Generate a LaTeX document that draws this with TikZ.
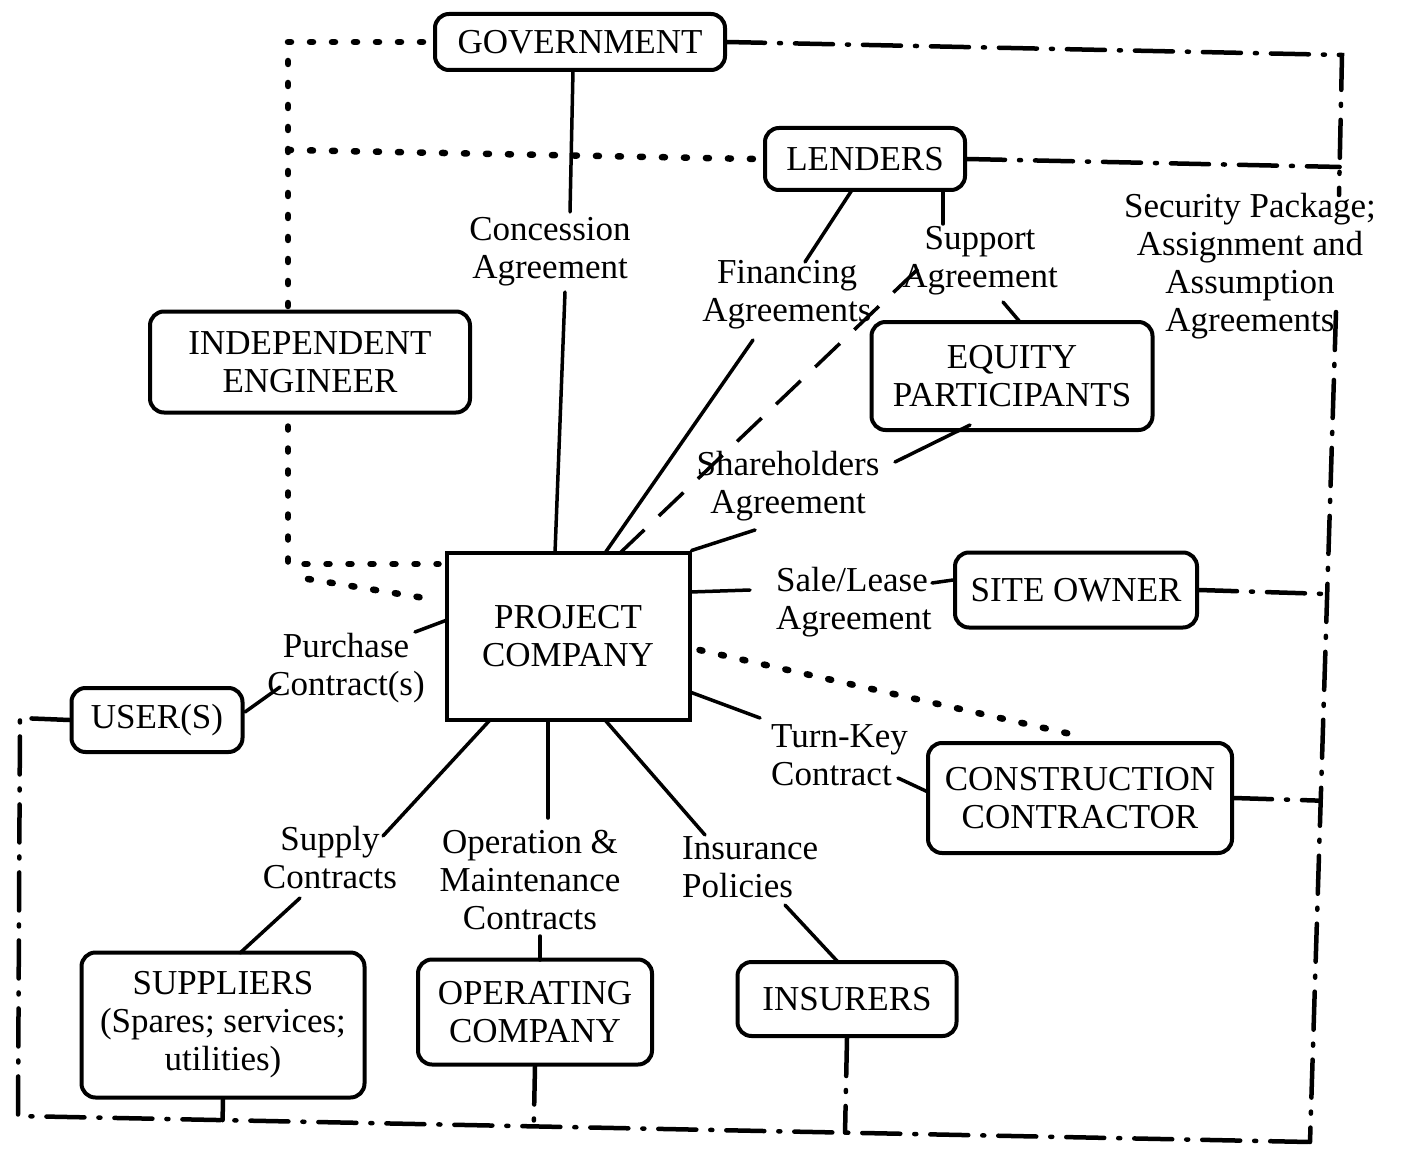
\documentclass[tikz,border=0pt]{standalone}
\usepackage{fontspec}
\setmainfont{Liberation Serif}
\usetikzlibrary{calc}
\newcommand\dfont{\fontsize{35}{38}\selectfont}
\begin{document}
\begin{tikzpicture}[x=1pt,y=-1pt,
 ebox/.style={draw, line width=4pt, rounded corners=14pt, align=center, inner sep=0pt, font=\dfont},
 pcbox/.style={draw, line width=4pt, align=center, inner sep=0pt, font=\dfont},
 lab/.style={align=center, inner sep=0pt, font=\dfont},
 labl/.style={align=left, inner sep=0pt, font=\dfont, anchor=west},
 conn/.style={line width=3.5pt, line cap=round},
 dashconn/.style={line width=3.5pt, dash pattern=on 34pt off 20pt},
 dotline/.style={line width=6.5pt, line cap=round, dash pattern=on 3pt off 19pt},
 dashdot/.style={line width=4.5pt, line cap=round, dash pattern=on 38pt off 14pt on 2pt off 14pt}
]
\fill[white] (0,0) rectangle (1402,1150);
\useasboundingbox (0,0) rectangle (1402,1150);

% boxes
\node[ebox, minimum width=290pt, minimum height=56pt] (gov) at (580,42) {GOVERNMENT};
\node[ebox, minimum width=200pt, minimum height=62pt] (len) at (865,159) {LENDERS};
\node[ebox, minimum width=320pt, minimum height=101pt] (ie) at (310,362) {INDEPENDENT\\ENGINEER};
\node[ebox, minimum width=281pt, minimum height=108pt] (eq) at (1012,376) {EQUITY\\PARTICIPANTS};
\node[pcbox, minimum width=243pt, minimum height=167pt] (pc) at (568,636) {PROJECT\\COMPANY};
\node[ebox, minimum width=242pt, minimum height=75pt] (site) at (1076,590) {SITE OWNER};
\node[ebox, minimum width=171pt, minimum height=64pt] (user) at (157,720) {USER(S)};
\node[ebox, minimum width=304pt, minimum height=110pt] (cc) at (1080,798) {CONSTRUCTION\\CONTRACTOR};
\node[ebox, minimum width=283pt, minimum height=145pt] (sup) at (223,1025) {SUPPLIERS\\(Spares; services;\\utilities)};
\node[ebox, minimum width=234pt, minimum height=105pt] (opc) at (535,1012) {OPERATING\\COMPANY};
\node[ebox, minimum width=219pt, minimum height=74pt] (ins) at (847,999) {INSURERS};

% labels
\node[lab] (conc) at (550,252) {Concession\\Agreement};
\node[lab] (fin) at (787,295) {Financing\\Agreements};
\node[lab] (supp) at (980,261) {Support\\Agreement};
\node[lab] (sec) at (1250,266) {Security Package;\\Assignment and\\Assumption\\Agreements};
\node[lab] (share) at (788,486) {Shareholders\\Agreement};
\node[labl] (sale) at (776,602) {Sale/Lease\\Agreement};
\node[lab] (purch) at (346,668) {Purchase\\Contract(s)};
\node[labl] (turn) at (771,755) {Turn-Key\\Contract};
\node[lab] (supply) at (330,858) {Supply\\Contracts};
\node[lab] (om) at (530,880) {Operation \&\\Maintenance\\Contracts};
\node[labl] (insp) at (682,867) {Insurance\\Policies};

% helper coordinates
\coordinate (tl) at (288,42);
\coordinate (ml) at (288,150);
\coordinate (bl) at (288,564);
\coordinate (bl2) at (308,579);
\coordinate (rtop) at (1342,55);
\coordinate (rb1) at (1339,195);
\coordinate (rb2) at (1336,312);
\coordinate (rbot) at (1310,1142);
\coordinate (ltop) at (20,718);
\coordinate (lbot) at (18,1116);

% dotted lines
\draw[dotline] ($(gov.west)+(-10,0)$) -- (tl) -- (ie.north -| tl);
\draw[dotline] (ml) -- ($(len.west)+(-8,0)$);
\draw[dotline] ($(ie.south -| bl)+(0,12)$) -- (bl) -- ($(bl -| pc.west)+(-6,0)$);
\draw[dotline] (bl2) -- ($(pc.west)+(-8,-36)$);
\draw[dotline] ($(pc.east)+(8,14)$) -- ($(cc.north)+(-5,-6)$);

% dash-dot lines
\draw[dashdot] (gov.east) -- (rtop) -- (rb1);
\draw[dashdot] (len.east) -- ($(rtop)!(len.east)!(rb1)$);
\draw[dashdot] (rb2) -- (rbot);
\draw[dashdot] (site.east) -- ($(rb2)!(site.east)!(rbot)$);
\draw[dashdot] (cc.east) -- ($(rb2)!(cc.east)!(rbot)$);
\draw[dashdot] (user.west) -- (ltop) -- (lbot) -- (rbot);
\draw[dashdot] (sup.south) -- ($(lbot)!(sup.south)!(rbot)$);
\draw[dashdot] (opc.south) -- ($(lbot)!(opc.south)!(rbot)$);
\draw[dashdot] (ins.south) -- ($(lbot)!(ins.south)!(rbot)$);

% solid connectors
\draw[conn] ($(gov)+(-7,28)$) -- ($(conc)+(20,-40)$);
\draw[conn] ($(conc)+(15,40)$) -- ($(pc)+(-13,-83)$);
\draw[conn] ($(len)+(-13,31)$) -- ($(fin)+(18,-33)$);
\draw[conn] ($(fin)+(-34,45)$) -- ($(pc)+(37,-83)$);
\draw[conn] ($(len)+(78,31)$) -- ($(supp)+(-37,-37)$);
\draw[dashconn] ($(supp)+(-62,8)$) -- ($(pc)+(52,-83)$);
\draw[conn] ($(supp)+(23,41)$) -- ($(eq)+(8,-54)$);
\draw[conn] ($(eq)+(-42,49)$) -- ($(share)+(107,-24)$);
\draw[conn] ($(share)+(-33,44)$) -- (pc.north east);
\draw[conn] ($(pc)+(122,-44)$) -- ($(sale.west)+(-26,-12)$);
\draw[conn] ($(sale.west)+(156,-19)$) -- ($(site.west)+(0,-10)$);
\draw[conn] ($(pc)+(-121,-16)$) -- ($(purch)+(69,-36)$);
\draw[conn] ($(purch)+(-66,19)$) -- ($(user)+(88,-8)$);
\draw[conn] ($(pc)+(122,56)$) -- ($(turn.west)+(-11,-37)$);
\draw[conn] ($(turn.west)+(127,23)$) -- ($(cc)+(-152,-6)$);
\draw[conn] ($(pc)+(-78,84)$) -- ($(supply)+(53,-22)$);
\draw[conn] ($(supply)+(-30,40)$) -- ($(sup)+(17,-72)$);
\draw[conn] ($(pc)+(-20,84)$) -- ($(om)+(18,-62)$);
\draw[conn] ($(om)+(10,56)$) -- ($(opc)+(5,-52)$);
\draw[conn] ($(pc)+(37,84)$) -- ($(insp.west)+(23,-32)$);
\draw[conn] ($(insp.west)+(103,38)$) -- ($(ins)+(-9,-37)$);
\end{tikzpicture}
\end{document}
